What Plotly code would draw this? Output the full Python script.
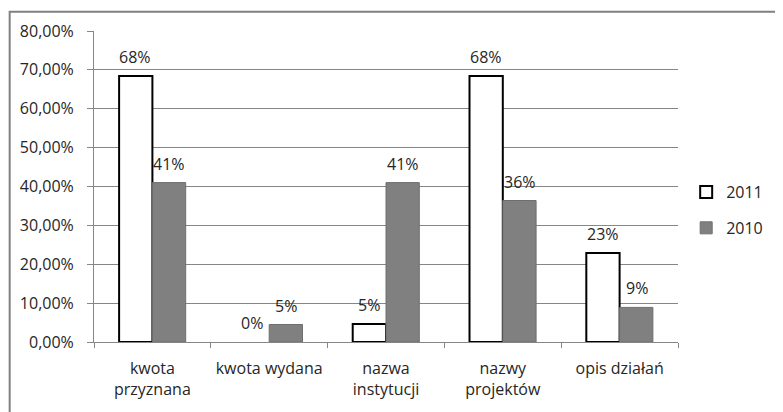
import plotly.graph_objects as go

categories = ["kwota<br>przyznana", "kwota wydana", "nazwa<br>instytucji", "nazwy<br>projektów", "opis działań"]
series_2011 = [68.4, 0.0, 4.6, 68.4, 22.9]
series_2010 = [41.0, 4.5, 41.0, 36.4, 8.9]
labels_2011 = ["68%", "0%", "5%", "68%", "23%"]
labels_2010 = ["41%", "5%", "41%", "36%", "9%"]
y_ticks = [0, 10, 20, 30, 40, 50, 60, 70, 80]
y_ticktext = [f"{v:.2f}".replace(".", ",") + "%" for v in y_ticks]

FONT = "Open Sans"
FS = 16
TXT = "#262626"

fig = go.Figure()
fig.add_trace(go.Bar(
    name="2011", x=categories, y=series_2011, legendgroup="a",
    marker=dict(color="white",
                line=dict(color="black", width=[2 if v > 0 else 0 for v in series_2011])),
))
fig.add_trace(go.Bar(
    name="2010", x=categories, y=series_2010, legendgroup="b",
    marker=dict(color="#808080", line=dict(color="#6e6e6e", width=1)),
))

for cat, v, t in zip(categories, series_2011, labels_2011):
    fig.add_annotation(x=cat, y=v, text=t, showarrow=False, xshift=-17,
                       yanchor="bottom", yshift=6, font=dict(family=FONT, size=FS, color=TXT))
for cat, v, t in zip(categories, series_2010, labels_2010):
    fig.add_annotation(x=cat, y=v, text=t, showarrow=False, xshift=17,
                       yanchor="bottom", yshift=6, font=dict(family=FONT, size=FS, color=TXT))

# outer chart border (top and left edges visible)
fig.add_shape(type="rect", xref="paper", yref="paper",
              x0=-0.1444, x1=1.185, y0=-0.26, y1=1.062,
              line=dict(color="#808080", width=2), fillcolor="rgba(0,0,0,0)", layer="below")

fig.update_layout(
    width=775, height=404,
    margin=dict(l=85, r=105, t=22, b=65),
    paper_bgcolor="white", plot_bgcolor="white",
    barmode="group", bargap=0.43, bargroupgap=0,
    font=dict(family=FONT, size=FS, color=TXT),
    showlegend=True,
    legend=dict(x=1.014, y=0.424, yanchor="middle", xanchor="left",
                font=dict(family=FONT, size=FS, color=TXT), tracegroupgap=12,
                traceorder="grouped", itemwidth=30,
                bgcolor="rgba(0,0,0,0)"),
    xaxis=dict(
        showline=True, linecolor="#868686", linewidth=1,
        ticks="outside", tickson="boundaries", ticklen=5, tickcolor="#868686",
        ticklabelstandoff=12,
        showgrid=False, tickfont=dict(family=FONT, size=FS, color=TXT),
    ),
    yaxis=dict(
        range=[0, 80], tickvals=y_ticks, ticktext=y_ticktext,
        showline=True, linecolor="#868686", linewidth=1,
        ticks="outside", ticklen=6, tickcolor="#868686",
        ticklabelstandoff=10,
        showgrid=True, gridcolor="#868686", gridwidth=1,
        zeroline=False, tickfont=dict(family=FONT, size=FS, color=TXT),
    ),
)

fig.write_html("out.html")
